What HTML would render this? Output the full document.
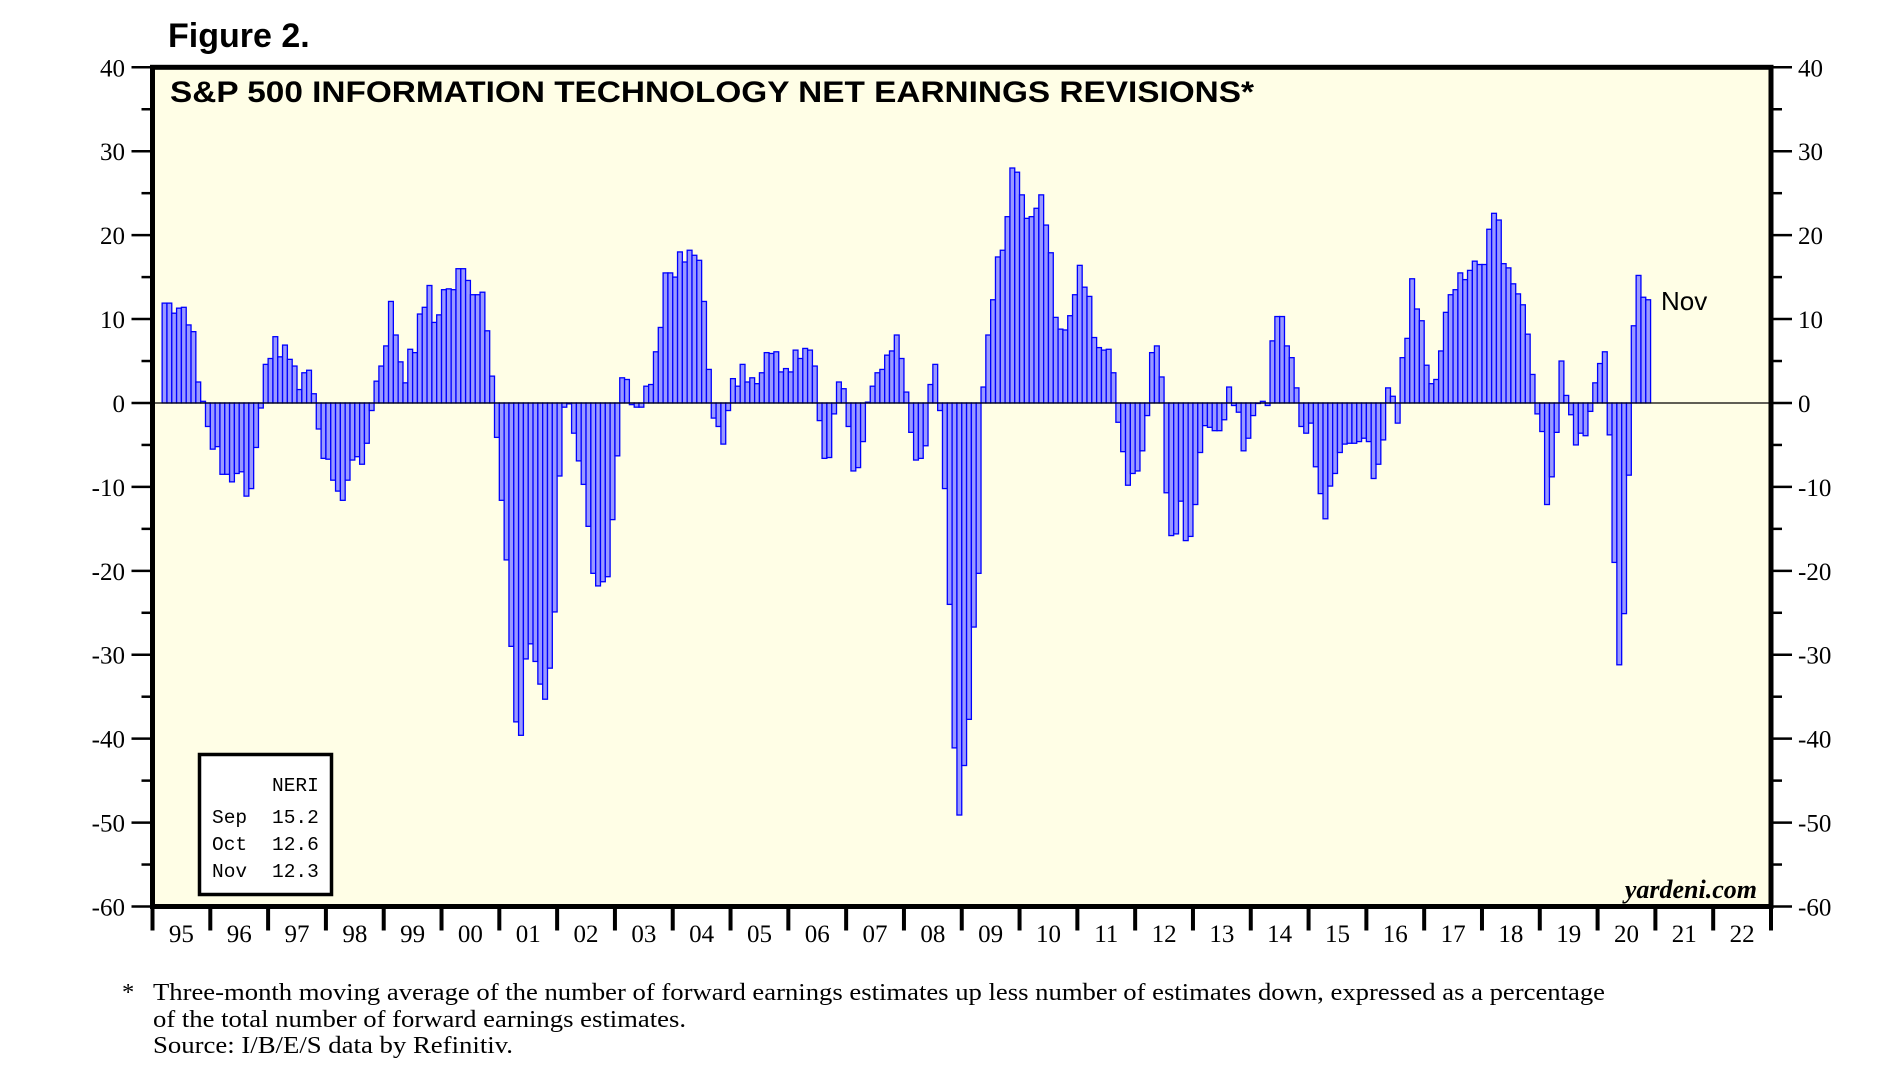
<!DOCTYPE html>
<html><head><meta charset="utf-8"><style>
html,body{margin:0;padding:0;background:#fff;}
svg{display:block;}
</style></head><body>
<svg id="chart" xmlns="http://www.w3.org/2000/svg" width="1881" height="1082" viewBox="0 0 1881 1082">
<text x="168" y="47" font-family="Liberation Sans, sans-serif" font-weight="bold" font-size="34">Figure 2.</text>
<rect x="152.5" y="67.3" width="1618.5" height="839.2" fill="#FFFEE6"/>
<g id="bars"></g>
<line id="zeroLine" stroke="#000" stroke-width="1.3"/>
<g id="axes"></g>
<rect x="152.5" y="67.3" width="1618.5" height="839.2" fill="none" stroke="#000" stroke-width="5"/>
<text x="170" y="102" font-family="Liberation Sans, sans-serif" font-weight="bold" font-size="30" textLength="1084" lengthAdjust="spacingAndGlyphs">S&amp;P 500 INFORMATION TECHNOLOGY NET EARNINGS REVISIONS*</text>
<text x="1661" y="310" font-family="Liberation Sans, sans-serif" font-size="26">Nov</text>
<text x="1757" y="898" text-anchor="end" font-family="Liberation Serif, serif" font-style="italic" font-weight="bold" font-size="26">yardeni.com</text>
<g>
<rect x="199.5" y="754.5" width="132" height="140" fill="#fff" stroke="#000" stroke-width="3.5"/>
<g font-family="Liberation Mono, monospace" font-size="19.5" fill="#000">
<text x="272" y="791">NERI</text>
<text x="212" y="823">Sep</text><text x="272" y="823">15.2</text>
<text x="212" y="850">Oct</text><text x="272" y="850">12.6</text>
<text x="212" y="877">Nov</text><text x="272" y="877">12.3</text>
</g></g>
<g font-family="Liberation Serif, serif" font-size="24.5" fill="#000">
<text x="122" y="1000">*</text>
<text x="153" y="1000" textLength="1452" lengthAdjust="spacingAndGlyphs">Three-month moving average of the number of forward earnings estimates up less number of estimates down, expressed as a percentage</text>
<text x="153" y="1027" textLength="533" lengthAdjust="spacingAndGlyphs">of the total number of forward earnings estimates.</text>
<text x="153" y="1053" textLength="360" lengthAdjust="spacingAndGlyphs">Source: I/B/E/S data by Refinitiv.</text>
</g>
</svg>
<script>
const startMonth = 2; // months after Jan 1995
const neriValues = [
11.9,11.9,10.7,11.3,11.4,9.3,8.5,2.5,0.2,-2.8,-5.5,-5.2,-8.5,-8.5,-9.4,-8.4,-8.2,-11.1,-10.2,-5.3,-0.6,4.6,5.3,7.9,5.5,6.9,5.2,4.4,1.6,3.6,3.9,1.1,-3.1,-6.6,-6.7,-9.2,-10.5,-11.6,-9.2,-6.8,-6.4,-7.3,-4.8,-0.9,2.6,4.4,6.8,12.1,8.1,4.9,2.4,6.4,6.0,10.6,11.4,14.0,9.6,10.5,13.5,13.6,13.5,16.0,16.0,14.6,12.9,12.9,13.2,8.6,3.2,-4.1,-11.6,-18.7,
-29.0,-38.0,-39.6,-30.5,-28.7,-30.8,-33.5,-35.3,-31.6,-24.9,-8.7,-0.5,-0.1,-3.6,-6.9,-9.7,-14.7,-20.3,-21.8,-21.3,-20.7,-13.9,-6.3,3.0,2.8,-0.2,-0.5,-0.5,2.0,2.2,6.1,9.0,15.5,15.5,15.0,18.0,16.8,18.2,17.6,17.0,12.1,4.0,-1.8,-2.8,-4.9,-0.9,2.9,2.0,4.6,2.5,3.0,2.3,3.6,6.0,5.9,6.1,3.7,4.1,3.7,6.3,5.3,6.5,6.3,4.4,-2.1,
-6.6,-6.5,-1.3,2.5,1.7,-2.8,-8.1,-7.7,-4.6,0.1,2.0,3.6,4.0,5.7,6.2,8.1,5.3,1.3,-3.5,-6.8,-6.6,-5.1,2.2,4.6,-0.9,-10.2,-24.0,-41.1,-49.1,-43.2,-37.7,-26.7,-20.3,1.9,8.1,12.3,17.4,18.2,22.2,28.0,27.5,24.8,22.0,22.2,23.2,24.8,21.2,17.9,10.2,8.8,8.7,10.4,12.9,16.4,13.8,12.7,7.8,6.6,6.3,6.4,3.6,-2.3,-5.8,-9.8,-8.4,
-8.1,-5.7,-1.5,6.0,6.8,3.1,-10.7,-15.8,-15.6,-11.7,-16.4,-15.9,-12.1,-5.9,-2.7,-2.9,-3.3,-3.3,-2.0,1.9,-0.3,-1.1,-5.7,-4.2,-1.5,0,0.2,-0.3,7.4,10.3,10.3,6.8,5.4,1.8,-2.8,-3.6,-2.4,-7.6,-10.8,-13.8,-9.9,-8.4,-5.9,-4.9,-4.8,-4.8,-4.6,-4.2,-4.6,-9.0,-7.3,-4.4,1.8,0.8,-2.4,5.4,7.7,14.8,11.2,9.8,4.5,2.3,2.8,6.2,10.8,
12.9,13.5,15.5,14.7,15.8,16.9,16.5,16.5,20.7,22.6,21.8,16.6,16.1,14.2,13.0,11.7,8.2,3.4,-1.3,-3.4,-12.1,-8.8,-3.5,5.0,0.9,-1.4,-5.0,-3.6,-3.9,-1.0,2.4,4.7,6.1,-3.8,-19.0,-31.2,-25.1,-8.6,9.2,15.2,12.6,12.3
];
const yearLabels = ["95","96","97","98","99","00","01","02","03","04","05","06","07","08","09","10","11","12","13","14","15","16","17","18","19","20","21","22"];
const yTicks = [40,30,20,10,0,-10,-20,-30,-40,-50,-60];
const yMinor = [35,25,15,5,-5,-15,-25,-35,-45,-55];

const NS = "http://www.w3.org/2000/svg";
const X0 = 152.5, X1 = 1771, Y0 = 67.3, Y1 = 906.5, VMAX = 40, VMIN = -60;
const monthW = (X1 - X0) / (yearLabels.length * 12);
function xScale(m){ return X0 + m * monthW; }
function yScale(v){ return Y0 + (VMAX - v) / (VMAX - VMIN) * (Y1 - Y0); }
function mk(tag, attrs, parent){ const e = document.createElementNS(NS, tag); for (const k in attrs) e.setAttribute(k, attrs[k]); parent.appendChild(e); return e; }

const barsG = document.getElementById('bars');
neriValues.forEach((v, i) => {
  const x = xScale(startMonth + i);
  const y0 = yScale(0), y = yScale(v);
  const r = mk('rect', {x: x, y: Math.min(y, y0), width: monthW, height: Math.max(Math.abs(y - y0), 0.5), fill: '#9999FF', stroke: '#0000FF', 'stroke-width': 1.3}, barsG);
  
  
});
const zl = document.getElementById('zeroLine');
zl.setAttribute('x1', X0); zl.setAttribute('x2', X1);
zl.setAttribute('y1', yScale(0)); zl.setAttribute('y2', yScale(0));

const ax = document.getElementById('axes');
yTicks.forEach(t => {
  const y = yScale(t);
  mk('line', {x1: X0 - 21, x2: X0, y1: y, y2: y, stroke: '#000', 'stroke-width': 2.5}, ax);
  mk('line', {x1: X1, x2: X1 + 21, y1: y, y2: y, stroke: '#000', 'stroke-width': 2.5}, ax);
  const lt = mk('text', {x: 125, y: y + 9, 'text-anchor': 'end', 'font-family': 'Liberation Serif, serif', 'font-size': 25}, ax);
  lt.textContent = String(t);
  
  
  const rt = mk('text', {x: 1798, y: y + 9, 'font-family': 'Liberation Serif, serif', 'font-size': 25}, ax);
  rt.textContent = String(t);
  
  
});
yMinor.forEach(t => {
  const y = yScale(t);
  mk('line', {x1: X0 - 11, x2: X0, y1: y, y2: y, stroke: '#000', 'stroke-width': 2.5}, ax);
  mk('line', {x1: X1, x2: X1 + 11, y1: y, y2: y, stroke: '#000', 'stroke-width': 2.5}, ax);
});
for (let i = 0; i <= yearLabels.length; i++) {
  const x = xScale(i * 12);
  mk('line', {x1: x, x2: x, y1: Y1, y2: Y1 + 24, stroke: '#000', 'stroke-width': 4}, ax);
  if (i < yearLabels.length) {
    const t = mk('text', {x: xScale(i * 12 + 6), y: 942, 'text-anchor': 'middle', 'font-family': 'Liberation Serif, serif', 'font-size': 25}, ax);
    t.textContent = yearLabels[i];
    
    
  }
}
</script>
</body></html>
